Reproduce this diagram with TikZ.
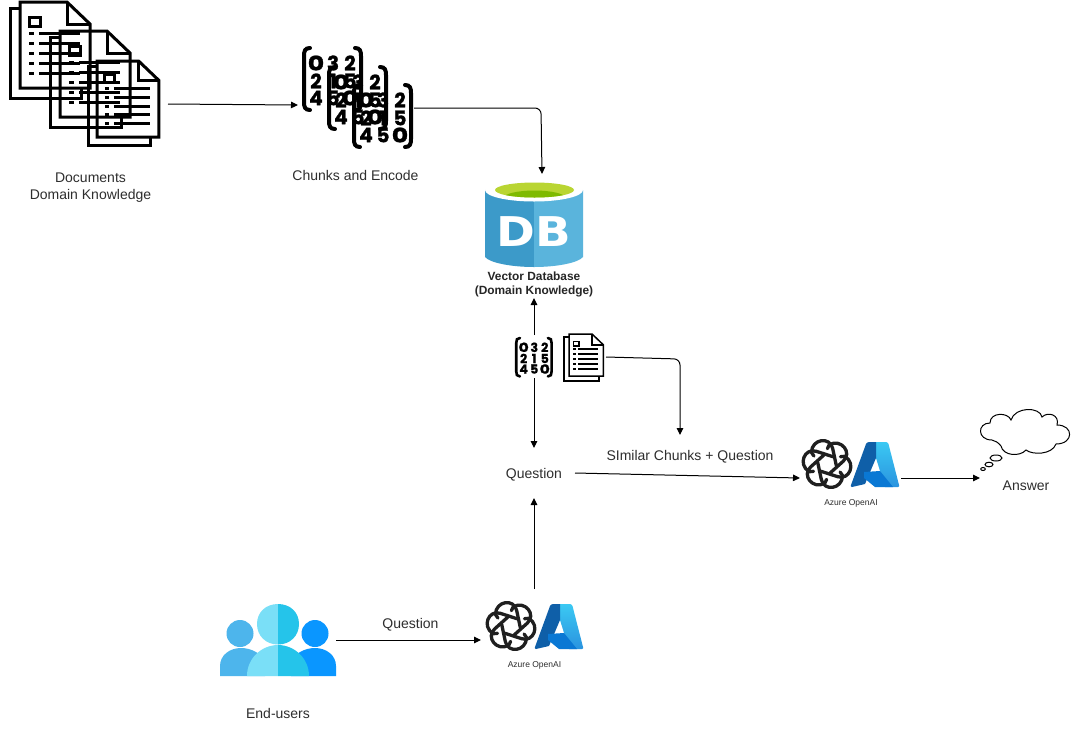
\documentclass[tikz,border=0pt]{standalone}
\usepackage{fontspec}
\setmainfont{Liberation Sans}
\newfontfamily\digfont[BoldFeatures={FakeBold=1.2}]{Poppins}
\newfontfamily\dbfont{DejaVu Sans}
\usetikzlibrary{arrows.meta,calc}
\tikzset{
  conn/.style={draw=black,line width=1pt,-{Triangle[length=7pt,width=6.5pt]},rounded corners=6pt},
  boxn/.style={inner sep=0pt,outer sep=0pt},
  txt/.style={inner sep=0pt,outer sep=0pt,font=\fontsize{14}{17}\selectfont,text=black!82,align=center},
  azlabel/.style={inner sep=0pt,font=\fontsize{8.5}{10}\selectfont,text=black!82},
  dig/.style={inner sep=0pt},
  zero/.style={xscale=1.25}
}
\definecolor{dbL}{HTML}{3C9AC9}
\definecolor{dbR}{HTML}{5AB4DC}
\definecolor{grnA}{HTML}{B9D532}
\definecolor{grnB}{HTML}{7FBA00}
\definecolor{uL}{HTML}{4DB5EC}
\definecolor{uR}{HTML}{0A96FF}
\definecolor{uC}{HTML}{7ADFF7}
\definecolor{uD}{HTML}{25C4EA}
\definecolor{azt}{HTML}{3BC9F3}
\definecolor{azm}{HTML}{2A93DF}
\definecolor{azd}{HTML}{0F5FA8}
\definecolor{azb}{HTML}{0A78D4}
\newcommand{\docicon}[4]{%
  \begin{scope}[shift={(#1,#2)},x=#3pt,y=-#3pt,line width=#4pt,line join=miter]
    \draw (0,0) -- (47,0) -- (70,22) -- (70,86) -- (0,86) -- cycle;
    \draw (47,0) -- (47,22) -- (70,22);
    \draw (0,6) -- (-10,6) -- (-10,96) -- (61,96) -- (61,86);
    \draw (9,15) rectangle (20,24);
    \foreach \yy in {31,41,51,61,71}{
      \draw (9,\yy) -- (14,\yy);
      \draw (19,\yy) -- (60,\yy);
    }
  \end{scope}}
\newcommand{\maticon}[6]{% prefix,x,y,scale,lw,font size
  \begin{scope}[shift={(#2,#3)},x=#4pt,y=-#4pt,line width=#5pt,line cap=round]
    \draw (8,0) .. controls (3,0) and (2,3) .. (2,8) -- (2,54) .. controls (2,59) and (3,62) .. (8,62);
    \draw (53,0) .. controls (58,0) and (59,3) .. (59,8) -- (59,54) .. controls (59,59) and (58,62) .. (53,62);
    \tikzset{dig/.append style={font=\digfont\bfseries\fontsize{#6}{#6}\selectfont}}
    \node[dig,zero] (#1a) at (14,15) {0}; \node[dig] (#1b) at (31,15) {3}; \node[dig] (#1c) at (48,15) {2};
    \node[dig] (#1d) at (14,33) {2}; \node[dig] (#1e) at (31,33) {1}; \node[dig] (#1f) at (48,33) {5};
    \node[dig] (#1g) at (14,50) {4}; \node[dig] (#1h) at (31,50) {5}; \node[dig,zero] (#1i) at (48,50) {0};
  \end{scope}}
\newcommand{\aiicon}[3]{% prefix, x, y: knot centre offset; azure origin
  \begin{scope}[shift={(#2,#3)}]
    % knot
    \begin{scope}[shift={(-24,22)},scale=1.17,rotate=12,line width=3.3pt,line cap=round,line join=round,draw=black!88]
      \foreach \ang in {0,60,...,300}{
        \draw[rotate=\ang] (7.5,3) -- (7.5,-12) .. controls (7.5,-22.5) and (-8,-24) .. (-11,-12.5) -- (-9.5,-9);
      }
    \end{scope}
    % azure A
    \shade[bottom color=azm,top color=azt] (20,0) -- (35,0) .. controls (36,0) and (37,1) .. (37.5,2) -- (48,43) .. controls (48.5,44) and (48,45) .. (47,45) -- (34,45) -- (25,16) -- cycle;
    \fill[azd] (18,0) -- (25,0) -- (25,16) -- (14,42) -- (1,45) .. controls (0,45) and (-0.5,44) .. (0,43) -- (15,2) .. controls (15.5,1) and (16.5,0) .. (18,0);
    \fill[azb] (13,30) -- (29,29) -- (42,45) -- (24,45) -- (13,36) -- cycle;
  \end{scope}}
\begin{document}
\begin{tikzpicture}[x=1pt,y=-1pt]
\fill[white] (0,0) rectangle (1071,729);
\useasboundingbox (0,0) rectangle (1071,729);

% icon holders
\node[boxn,minimum width=160pt,minimum height=146pt] (docs) at (88,75) {};
\node[boxn,minimum width=116pt,minimum height=100pt] (chunks) at (356,98) {};
\node[boxn,minimum width=98pt,minimum height=124pt] (db) at (534,236) {};
\node[boxn,minimum width=38pt,minimum height=43pt] (vec) at (534,356.5) {};
\node[boxn,minimum width=42pt,minimum height=46pt] (simdoc) at (585,357) {};
\node[txt,minimum width=82pt,minimum height=50pt] (q1) at (534,473) {\raisebox{-2pt}[10pt][3pt]{Question}};
\node[txt,minimum height=40pt] (sim) at (690,455) {\raisebox{-2pt}[10pt][3pt]{SImilar Chunks + Question}};
\node[boxn,minimum width=101pt,minimum height=76pt] (ai2) at (850.5,478) {};
\node[boxn,minimum width=91pt,minimum height=87pt] (cloud) at (1025.5,451.5) {};
\node[boxn,minimum width=116pt,minimum height=72pt] (users) at (278,640) {};
\node[boxn,minimum width=106pt,minimum height=102pt] (ai1) at (534,640) {};

% documents
\docicon{20}{2}{1}{3}
\docicon{60}{31}{1}{3}
\docicon{97}{61}{0.885}{3}
\docicon{569}{334}{0.49}{1.5}

% matrices
\maticon{ma}{302}{48}{1}{4}{20}
\maticon{mb}{327}{67}{1}{4}{20}
\maticon{mc}{352}{85}{1}{4}{20}
\maticon{md}{515}{338}{0.62}{2.6}{12.5}

% database
\fill[dbL] (534,185) -- (485,190) -- (485,257) .. controls (490,263) and (512,267) .. (534,267) -- cycle;
\fill[dbR] (534,185) -- (583,190) -- (583,257) .. controls (578,263) and (556,267) .. (534,267) -- cycle;
\fill[white] (534,190) ellipse [x radius=49,y radius=11.5];
\begin{scope}
  \clip (534.5,190) ellipse [x radius=39.5,y radius=7.5];
  \fill[grnA] (490,178) rectangle (580,200);
  \fill[grnB] (534.5,198) ellipse [x radius=31,y radius=7.5];
\end{scope}
\node[inner sep=0pt,text=white,font=\dbfont\bfseries\fontsize{41}{41}\selectfont,xscale=1.14] (dbt) at (534,232) {DB};
\node[inner sep=0pt,align=center,font=\bfseries\fontsize{11.9}{14}\selectfont,text=black!85] (dbl) at (534,284) {Vector Database\\(Domain Knowledge)};

% azure / openai
\aiicon{a}{535}{604}
\aiicon{b}{851}{442}
\node[azlabel] (az1) at (534.5,665) {Azure OpenAI};
\node[azlabel] (az2) at (851,503) {Azure OpenAI};

% users
\fill[uL] (220,676) -- (220,666) .. controls (220,655) and (230,648) .. (241,648) .. controls (252,648) and (262,654) .. (265,662) -- (265,676) -- cycle;
\fill[uR] (336,676) -- (336,666) .. controls (336,655) and (326,648) .. (315,648) .. controls (304,648) and (294,654) .. (291,662) -- (291,676) -- cycle;
\fill[uL] (240,633.5) circle [radius=13.5];
\fill[uR] (315,633.5) circle [radius=13.5];
\fill[uC] (278,604) .. controls (266,604) and (257,612) .. (257,624) .. controls (257,636) and (266,644.5) .. (278,644.5) -- (278,645) .. controls (262,645) and (247,658) .. (247,676) -- (278,676) -- cycle;
\fill[uD] (278,604) .. controls (290,604) and (299,612) .. (299,624) .. controls (299,636) and (290,644.5) .. (278,644.5) -- (278,645) .. controls (294,645) and (309,658) .. (309,676) -- (278,676) -- cycle;

% cloud
\draw[line width=1pt,fill=white] (990,423) .. controls (990,412) and (1008,412) .. (1011,420)
  .. controls (1015,406.5) and (1040,406.5) .. (1042,417)
  .. controls (1048,411) and (1060,415) .. (1057,425)
  .. controls (1074,425) and (1074,444) .. (1056,444)
  .. controls (1052,455) and (1032,455) .. (1026,450)
  .. controls (1020,457) and (1003,456) .. (1001,446)
  .. controls (998,442) and (995,441) .. (992,440)
  .. controls (977,440) and (977,423) .. (990,423) -- cycle;
\draw[line width=1pt] (996,458) ellipse [x radius=6,y radius=3];
\draw[line width=1pt] (989,464.5) ellipse [x radius=4,y radius=2.3];
\draw[line width=1pt] (983,469) ellipse [x radius=2.3,y radius=1.5];

% texts
\node[txt] (t1) at (90.5,187.5) {Documents\\Domain Knowledge};
\node[txt] (t2) at (355.5,175) {Chunks and Encode};
\node[txt] (t3) at (1026,486) {Answer};
\node[txt] (t4) at (410.5,624.5) {Question};
\node[txt] (t5) at (278,713) {End-users};

% connectors
\draw[conn] ([yshift=-29pt]docs.east) -- ([yshift=-7pt]chunks.west);
\draw[conn] ([yshift=-10pt]chunks.east) -- ($(chunks.east)+(127,10)$) -- ([xshift=8pt]db.north);
\draw[conn] (vec.north) -- (db.south);
\draw[conn] (vec.south) -- (q1.north);
\draw[conn] (simdoc.east) -- ($(simdoc.east)+(74,2)$) -- ([xshift=-10pt]sim.north);
\draw[conn] (q1.east) -- (ai2.west);
\draw[conn] (ai2.east) -- ([yshift=-26.5pt]cloud.west);
\draw[conn] (users.east) -- (ai1.west);
\draw[conn] (ai1.north) -- (q1.south);
\end{tikzpicture}
\end{document}
